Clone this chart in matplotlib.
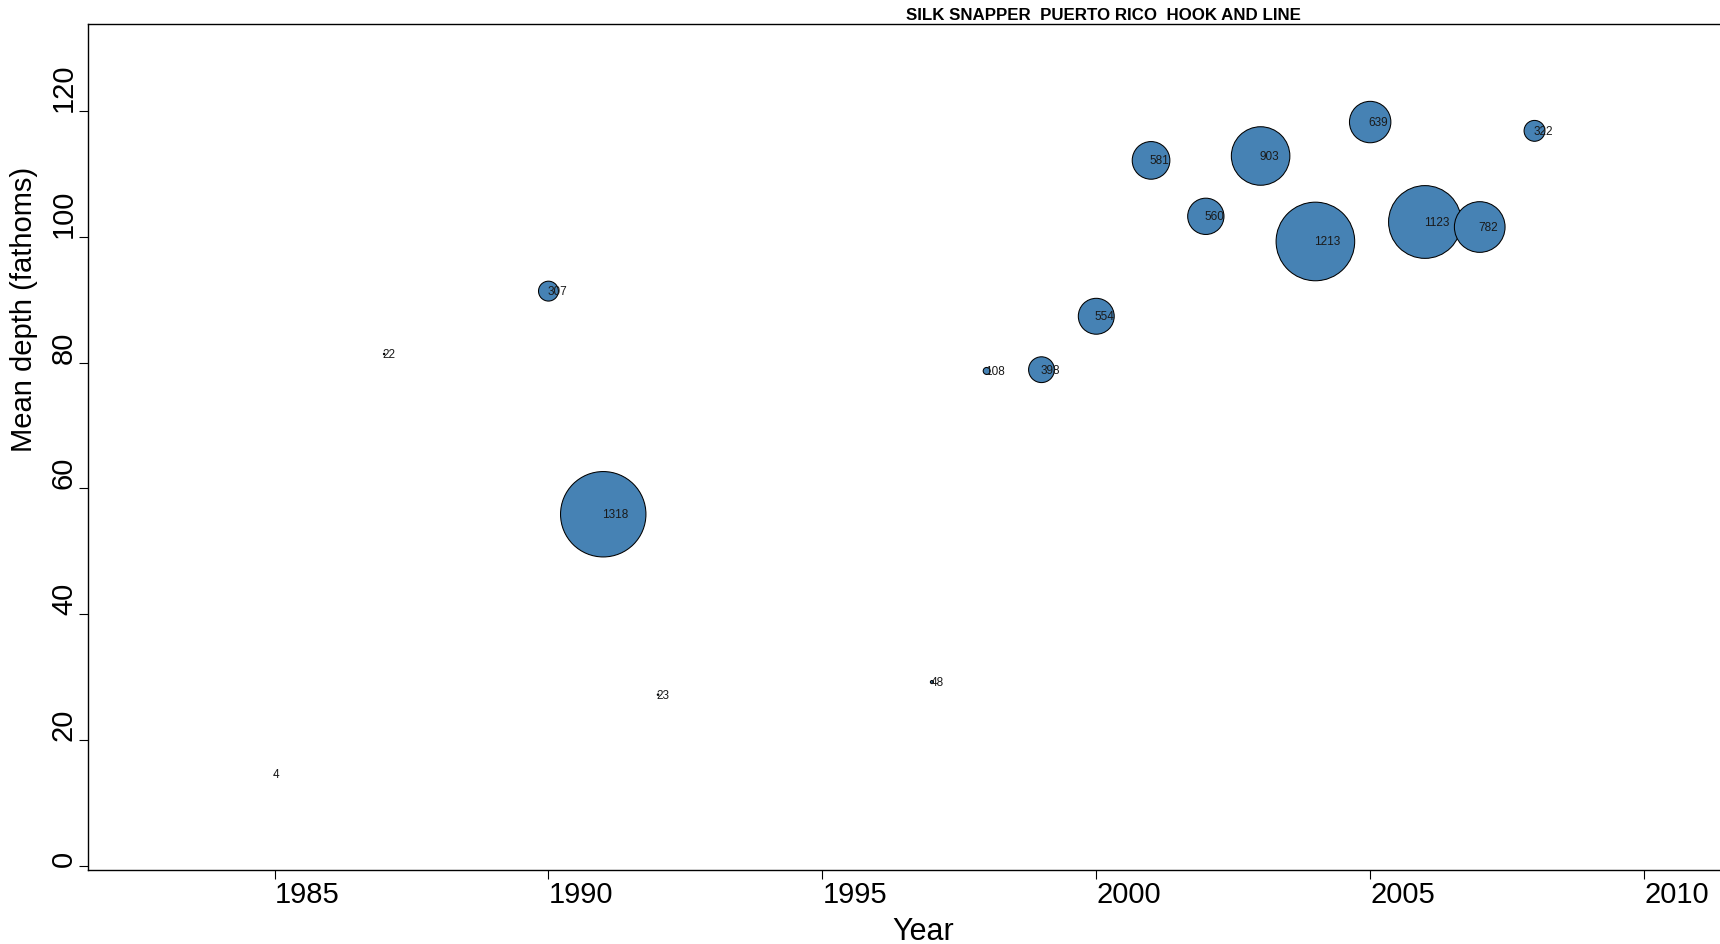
import numpy as np
import matplotlib
matplotlib.use("Agg")
import matplotlib.pyplot as plt

plt.rcParams['font.family'] = ['Liberation Sans', 'DejaVu Sans']

# data
years = [1985, 1987, 1990, 1991, 1992, 1997, 1998, 1999, 2000, 2001,
         2002, 2003, 2004, 2005, 2006, 2007, 2008]
depth = [14.5, 81.4, 91.4, 55.9, 27.2, 29.2, 78.7, 78.9, 87.4, 112.2,
         103.3, 112.9, 99.3, 118.3, 102.4, 101.6, 116.9]
n_obs = [4, 22, 307, 1318, 23, 48, 108, 398, 554, 581,
         560, 903, 1213, 639, 1123, 782, 322]
xticks = [1985, 1990, 1995, 2000, 2005, 2010]
yticks = [0, 20, 40, 60, 80, 100, 120]

W, H, DPI = 1720, 945, 100
fig = plt.figure(figsize=(W / DPI, H / DPI), dpi=DPI)
# axes box in pixels: left 88, bottom 871, top 25, runs off the right edge
ax = fig.add_axes([88.3 / W, (H - 871) / H, 1 - 88.3 / W + 0.01, (871 - 25) / H])

# radius grows linearly with n (largest ~42.7 px)
r_max_pt = 42.7 * 72 / DPI
n = np.array(n_obs, dtype=float)
sizes = (2 * r_max_pt * n / n.max()) ** 2
ax.scatter(years, depth, s=sizes, c='#4682B4', edgecolors='black',
           linewidths=0.75, zorder=2)
for x, y, lab in zip(years, depth, n_obs):
    ax.annotate(str(lab), (x, y), xytext=(-1, 0), textcoords='offset points',
                ha='left', va='center', fontsize=8.5, color='#1a1a1a', zorder=3)

ax.set_xlim(1981.6, 2011.7)
ax.set_ylim(-0.7, 133.9)
ax.set_xticks(xticks)
ax.set_yticks(yticks)

ax.spines['right'].set_visible(False)
for s in ['left', 'bottom', 'top']:
    ax.spines[s].set_linewidth(1.0)

ax.tick_params(axis='both', direction='out', length=6.5, width=0.8,
               labelsize=21, color='black')
ax.tick_params(axis='x', pad=1)
ax.tick_params(axis='y', pad=1, labelrotation=90)
for lab in ax.get_xticklabels():
    lab.set_ha('left')
for lab in ax.get_yticklabels():
    lab.set_va('bottom')

fig.text(24 / W, (H - 452) / H, 'Mean depth (fathoms)', rotation=90,
         ha='center', va='bottom', fontsize=21)
fig.text(892 / W, (H - 932) / H, 'Year', ha='left', va='center', fontsize=22)
fig.text(1103 / W, (H - 15) / H, 'SILK SNAPPER  PUERTO RICO  HOOK AND LINE',
         ha='center', va='center', fontsize=12.2, fontweight='bold')

fig.savefig('out.png', dpi=DPI)
